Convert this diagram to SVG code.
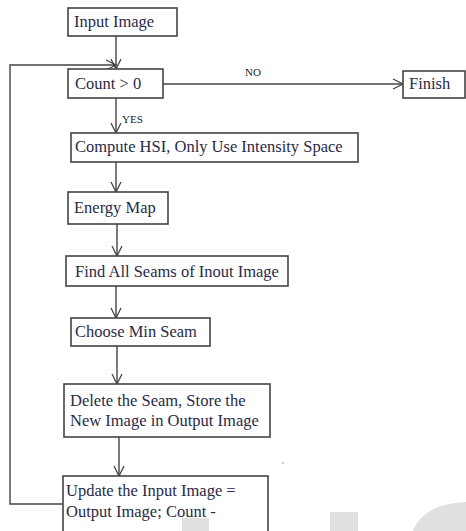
<svg xmlns="http://www.w3.org/2000/svg" width="466" height="531" viewBox="0 0 466 531">
<style>
.box{fill:#fff;stroke:#444;stroke-width:1.6}
.t{font-size:16.5px;fill:#2a2a48}
.s{font-size:11px;fill:#222}
.c{fill:none;stroke:#444;stroke-width:1.4}
.wm{fill:#e0e0e0}
</style>
<defs>
<marker id="a" viewBox="0 0 12 12" refX="11" refY="6" markerWidth="12" markerHeight="12" markerUnits="userSpaceOnUse" orient="auto">
<path d="M1,1 L11,6 L1,11" fill="none" stroke="#444" stroke-width="1.3"/>
</marker>
</defs>
<g font-family="'Liberation Serif', 'Times New Roman', Times, serif">
<g id="connectors">
<line class="c" x1="116" y1="36" x2="116" y2="69" marker-end="url(#a)"/>
<polyline class="c" points="63,504 10,504 10,65 116,65" marker-end="url(#a)"/>
<line class="c" x1="163" y1="84" x2="403" y2="84" marker-end="url(#a)"/>
<line class="c" x1="116" y1="98" x2="116" y2="133" marker-end="url(#a)"/>
<line class="c" x1="116" y1="162" x2="116" y2="192" marker-end="url(#a)"/>
<line class="c" x1="117" y1="224" x2="117" y2="256" marker-end="url(#a)"/>
<line class="c" x1="116" y1="286" x2="116" y2="318" marker-end="url(#a)"/>
<line class="c" x1="117" y1="346" x2="117" y2="384" marker-end="url(#a)"/>
<line class="c" x1="119" y1="437" x2="119" y2="476" marker-end="url(#a)"/>
<text class="s" x="245" y="76">NO</text>
<text class="s" x="122" y="123">YES</text>
</g>
<g id="input"><rect class="box" x="68" y="8" width="109" height="28"/><text class="t" x="74" y="27">Input Image</text></g>
<g id="count"><rect class="box" x="68" y="69" width="95" height="29"/><text class="t" x="75" y="89">Count &gt; 0</text></g>
<g id="finish"><rect class="box" x="403" y="71" width="62" height="27"/><text class="t" x="409" y="89">Finish</text></g>
<g id="hsi"><rect class="box" x="71" y="133" width="287" height="29"/><text class="t" x="75" y="152">Compute HSI, Only Use Intensity Space</text></g>
<g id="energy"><rect class="box" x="68" y="192" width="100" height="32"/><text class="t" x="74" y="213">Energy Map</text></g>
<g id="find"><rect class="box" x="66" y="256" width="222" height="30"/><text class="t" x="75" y="277">Find All Seams of Inout Image</text></g>
<g id="choose"><rect class="box" x="71" y="318" width="139" height="28"/><text class="t" x="75" y="337">Choose Min Seam</text></g>
<g id="delete"><rect class="box" x="64" y="384" width="206" height="53"/><text class="t" x="70" y="406">Delete the Seam, Store the</text><text class="t" x="70" y="426">New Image in Output Image</text></g>
<g id="update"><rect class="box" x="63" y="476" width="205" height="60"/><text class="t" x="66" y="496">Update the Input Image =</text><text class="t" x="66" y="517">Output Image; Count -</text></g>
</g>
<g id="watermark">
<rect class="wm" x="182" y="518" width="27" height="13"/>
<rect class="wm" x="330" y="512" width="28" height="19"/>
<path class="wm" d="M413,531 C420,512 440,503 466,502 L466,531 Z"/>
<circle cx="283" cy="463" r="0.8" fill="#888"/>
</g>
</svg>
